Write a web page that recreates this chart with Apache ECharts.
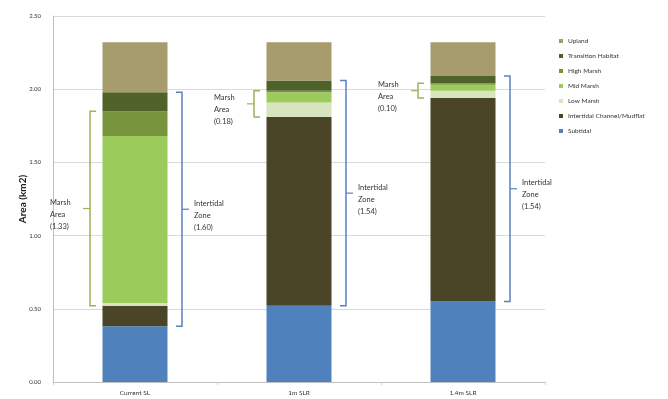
<!DOCTYPE html>
<html>
<head>
<meta charset="utf-8">
<script src="https://cdn.jsdelivr.net/npm/echarts@6/dist/echarts.min.js"></script>
<style>
  html, body { margin: 0; padding: 0; background: #ffffff; }
  #chart { width: 668px; height: 399px; }
</style>
</head>
<body>
<div id="chart"></div>
<script>
// Scenario names along the category axis
const categories = ['Current SL', '1m SLR', '1.4m SLR'];

// Habitat areas per scenario (km2), bottom of the stack first
const subtidal   = [0.38, 0.52, 0.55];
const mudflat    = [0.14, 1.29, 1.39];
const lowMarsh   = [0.02, 0.10, 0.05];
const midMarsh   = [1.14, 0.07, 0.04];
const highMarsh  = [0.17, 0.01, 0.01];
const transition = [0.13, 0.07, 0.05];
const upland     = [0.34, 0.26, 0.23];

// Value axis ticks
const yTicks = [0, 0.5, 1.0, 1.5, 2.0, 2.5];

const legendOrder = ['Upland', 'Transition Habitat', 'High Marsh', 'Mid Marsh', 'Low Marsh', 'Intertidal Channel/Mudflat', 'Subtidal'];

const layers = [
  { name: 'Subtidal', data: subtidal, color: '#4F81BD' },
  { name: 'Intertidal Channel/Mudflat', data: mudflat, color: '#4A4527' },
  { name: 'Low Marsh', data: lowMarsh, color: '#D7E4BD' },
  { name: 'Mid Marsh', data: midMarsh, color: '#9BCB5A' },
  { name: 'High Marsh', data: highMarsh, color: '#77933C' },
  { name: 'Transition Habitat', data: transition, color: '#4F6228' },
  { name: 'Upland', data: upland, color: '#A69C6C' }
];

const r2 = v => Math.round(v * 100) / 100;

// Bracket spans built from the stacked values: marsh = low+mid+high,
// intertidal zone = mudflat + marsh + transition habitat
const marshBrackets = categories.map((c, i) => {
  const lo = subtidal[i] + mudflat[i];
  const total = lowMarsh[i] + midMarsh[i] + highMarsh[i];
  return [i, r2(lo), r2(lo + total), -1, 'Marsh\nArea\n(' + r2(total).toFixed(2) + ')'];
});
const zoneBrackets = categories.map((c, i) => {
  const lo = subtidal[i];
  const total = mudflat[i] + lowMarsh[i] + midMarsh[i] + highMarsh[i] + transition[i];
  return [i, r2(lo), r2(lo + total), 1, 'Intertidal\nZone\n(' + r2(total).toFixed(2) + ')'];
});

const FONT = 'Lato, "Open Sans", sans-serif';

function bracketRenderer(color) {
  return function (params, api) {
    const cat = api.value(0);
    const side = api.value(3);
    const text = api.value(4);
    const top = api.coord([cat, api.value(2)]);
    const bot = api.coord([cat, api.value(1)]);
    const cx = top[0];
    const bx = side < 0 ? cx - 45 : cx + 47;
    const inward = side < 0 ? 6 : -6;
    const outward = side < 0 ? -7 : 7;
    const midY = (top[1] + bot[1]) / 2;
    const tx = side < 0 ? bx - 40 : bx + 12;
    return {
      type: 'group',
      children: [
        {
          type: 'polyline',
          shape: { points: [[bx + inward, top[1]], [bx, top[1]], [bx, bot[1]], [bx + inward, bot[1]]] },
          style: { stroke: color, lineWidth: 1.5, fill: null }
        },
        {
          type: 'line',
          shape: { x1: bx, y1: midY, x2: bx + outward, y2: midY },
          style: { stroke: color, lineWidth: 1.2 }
        },
        {
          type: 'text',
          style: {
            text: text, x: tx, y: midY - 12,
            fill: '#333333', font: '7.5px ' + FONT,
            align: 'left', verticalAlign: 'top', lineHeight: 12
          }
        }
      ]
    };
  };
}

const chart = echarts.init(document.getElementById('chart'));

const series = layers.map(l => ({
  name: l.name,
  type: 'bar',
  stack: 'area',
  barWidth: 65,
  data: l.data,
  itemStyle: { color: l.color },
  emphasis: { disabled: true }
}));

series.push({
  type: 'custom',
  name: 'marshBracket',
  renderItem: bracketRenderer('#9BB35A'),
  data: marshBrackets,
  encode: { x: 0, y: [1, 2] },
  z: 5
});
series.push({
  type: 'custom',
  name: 'zoneBracket',
  renderItem: bracketRenderer('#5A80C0'),
  data: zoneBrackets,
  encode: { x: 0, y: [1, 2] },
  z: 5
});

chart.setOption({
  animation: false,
  backgroundColor: '#ffffff',
  grid: { left: 53, right: 123, top: 16, bottom: 17 },
  legend: {
    data: legendOrder,
    orient: 'vertical',
    left: 554,
    top: 32,
    itemWidth: 4,
    itemHeight: 4,
    itemGap: 7,
    icon: 'rect',
    textStyle: { fontSize: 6.5, color: '#333', fontFamily: FONT, lineHeight: 8 }
  },
  xAxis: {
    type: 'category',
    data: categories,
    axisLine: { lineStyle: { color: '#BFBFBF', width: 1 } },
    axisTick: { show: true, length: 3, lineStyle: { color: '#D0D0D0' } },
    axisLabel: { fontSize: 6.5, color: '#333', fontFamily: FONT, margin: 7 }
  },
  yAxis: {
    type: 'value',
    min: yTicks[0],
    max: yTicks[yTicks.length - 1],
    interval: yTicks[1] - yTicks[0],
    name: 'Area (km2)',
    nameLocation: 'middle',
    nameGap: 25,
    nameMoveOverlap: false,
    nameTextStyle: { fontSize: 10, fontWeight: 'bold', color: '#222', fontFamily: FONT },
    axisLine: { show: true, lineStyle: { color: '#BFBFBF', width: 1 } },
    axisTick: { show: false },
    splitLine: { lineStyle: { color: '#D9D9D9', width: 1 } },
    axisLabel: {
      fontSize: 6, color: '#333', fontFamily: FONT, margin: 12,
      formatter: v => v.toFixed(2)
    }
  },
  series: series
});
</script>
</body>
</html>
